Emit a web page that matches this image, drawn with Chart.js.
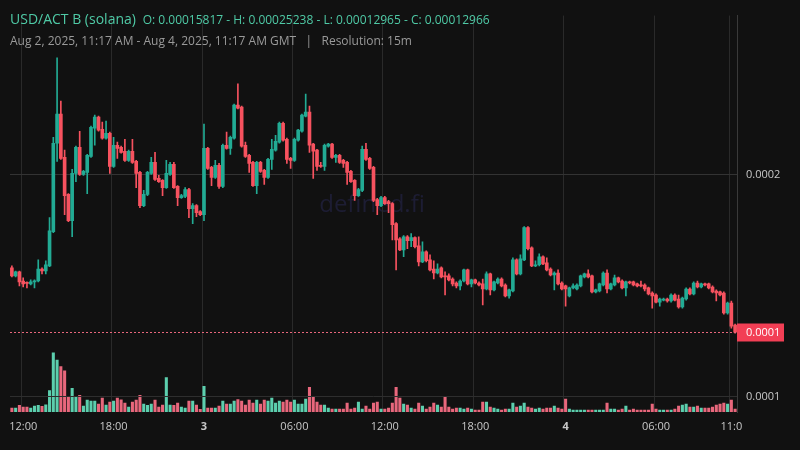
<!DOCTYPE html>
<html><head><meta charset="utf-8">
<script src="https://cdn.jsdelivr.net/npm/chart.js@4.4.1/dist/chart.umd.min.js"></script>
<style>
html,body{margin:0;padding:0;background:#111111;width:800px;height:450px;overflow:hidden;font-family:"Open Sans","Noto Sans",sans-serif}
#wrap{position:absolute;left:0;top:0;width:800px;height:450px}
#t1{position:absolute;left:10px;top:9px;color:#4fcaa6;font-size:14px;white-space:nowrap}
#t1 span{font-size:12px}
#t2{position:absolute;left:10px;top:32px;color:#9a9a9a;font-size:12px;white-space:nowrap}
</style></head>
<body>
<div id="wrap"><canvas id="c" width="800" height="450"></canvas></div>
<div id="t1">USD/ACT B (solana) <span>&nbsp;O: 0.00015817 - H: 0.00025238 - L: 0.00012965 - C: 0.00012966</span></div>
<div id="t2">Aug 2, 2025, 11:17 AM - Aug 4, 2025, 11:17 AM GMT &nbsp;&nbsp;|&nbsp;&nbsp; Resolution: 15m</div>
<script>
// prices in units of 1e-6
const openE6=[158.0,154.4,156.2,152.1,151.2,150.8,151.7,152.1,157.5,156.6,158.9,174.3,214.0,227.1,207.7,191.0,179.2,200.5,212.2,200.0,200.9,208.1,220.8,225.8,220.3,216.3,218.5,203.6,213.1,212.2,210.4,206.3,210.4,205.9,200.9,186.0,191.0,200.5,205.4,198.2,197.3,194.1,200.0,204.5,194.6,189.6,190.1,193.2,184.6,186.0,183.3,181.9,211.7,203.2,198.6,204.1,194.6,213.1,211.7,216.3,231.2,230.3,213.1,208.6,205.4,195.0,205.4,201.8,198.6,206.8,210.9,214.5,223.0,215.8,207.2,206.3,215.4,219.4,226.2,228.0,213.6,210.9,204.1,203.6,212.7,213.6,207.7,208.6,206.3,205.4,201.4,197.3,190.5,192.8,211.3,207.2,203.2,188.7,186.0,189.6,187.8,186.9,177.9,171.1,166.1,172.0,170.2,171.6,167.9,160.7,165.2,161.6,157.5,155.7,158.0,154.4,154.4,153.0,151.2,149.9,152.1,157.1,150.8,152.6,151.2,150.8,148.5,155.3,148.1,151.2,153.0,150.3,145.4,147.6,161.6,155.3,161.6,176.1,167.0,158.9,159.4,163.0,160.3,157.5,154.8,155.7,151.2,149.9,145.4,149.0,148.5,149.9,153.9,155.3,154.4,147.2,147.6,150.3,155.7,148.5,150.3,153.5,152.1,149.0,151.7,151.7,150.8,150.3,150.3,149.0,146.7,145.8,142.6,143.5,144.0,143.1,145.8,144.0,140.4,144.0,148.5,146.3,151.2,149.4,150.8,150.8,149.4,147.6,147.2,146.7,137.7,142.2,132.3];
const highE6=[158.9,156.6,156.6,153.5,151.7,152.6,152.6,161.6,158.0,161.2,180.6,216.7,252.4,233.0,210.9,191.4,202.3,212.7,219.4,201.8,209.0,221.7,226.7,226.2,223.5,224.0,219.0,216.7,214.5,212.7,215.8,210.9,215.8,206.3,201.4,192.8,201.4,207.7,209.9,199.6,197.7,206.3,205.4,205.4,195.0,191.0,194.1,193.7,186.9,186.5,183.7,222.6,212.2,203.6,206.3,205.0,213.6,219.0,217.2,231.6,240.7,230.7,214.5,209.0,205.9,205.9,205.9,202.3,207.2,215.8,217.6,223.5,223.5,216.3,207.7,216.3,220.3,227.1,236.1,230.7,214.0,211.3,205.4,213.6,214.0,214.0,209.0,209.0,206.8,205.9,201.8,197.7,193.7,212.7,214.0,207.7,203.6,189.2,190.1,190.1,188.3,187.4,178.3,171.6,172.5,172.5,173.4,172.0,172.0,169.7,165.7,163.9,161.2,159.8,158.5,156.2,155.3,153.5,151.7,152.6,157.5,157.5,153.0,153.0,151.7,153.0,156.2,155.7,152.1,153.5,153.5,150.8,148.5,162.5,162.1,163.9,176.5,176.5,167.5,161.2,164.3,163.4,162.5,158.0,156.2,157.1,151.7,150.3,149.4,150.8,150.8,154.8,155.7,157.1,154.8,148.5,151.2,156.2,157.1,151.2,154.8,153.9,152.6,152.1,152.1,152.1,151.2,152.1,150.8,149.4,147.2,146.3,144.4,144.4,144.4,146.3,146.3,145.8,144.9,149.0,149.0,151.7,152.1,151.2,151.2,151.2,149.9,148.1,147.6,147.2,142.6,143.1,132.7];
const lowE6=[153.9,153.9,149.9,149.4,149.0,150.3,149.0,151.7,155.3,155.3,158.5,173.8,205.9,206.8,181.9,178.8,172.0,196.8,199.6,199.6,191.4,207.7,213.1,219.4,215.8,215.8,200.5,203.2,207.2,209.5,205.9,205.9,205.0,194.1,185.1,185.5,190.5,200.0,197.3,196.4,190.5,193.7,199.6,193.7,186.0,189.2,189.6,180.6,177.9,181.0,181.5,179.2,202.3,195.0,198.2,193.7,194.1,211.3,209.0,215.8,229.4,212.2,207.7,200.9,194.6,191.4,200.9,195.5,198.2,202.3,210.4,214.0,214.9,205.0,202.7,205.9,214.9,219.0,225.8,209.9,198.2,201.8,203.2,201.8,212.2,207.2,205.4,205.0,203.2,195.5,196.4,188.3,190.1,192.3,206.3,202.3,187.8,181.9,185.5,186.5,182.8,170.6,157.1,165.7,163.0,166.6,167.5,167.0,158.9,160.3,160.7,156.6,153.0,155.3,153.5,145.8,152.1,149.9,149.0,148.1,151.7,150.3,149.4,150.8,149.9,141.3,148.1,145.8,147.6,150.8,149.4,144.9,144.4,147.2,154.8,154.8,161.2,166.1,158.5,158.5,158.9,159.4,156.6,154.4,148.1,150.3,148.1,140.8,144.9,148.5,148.1,149.4,153.5,153.5,146.7,146.7,147.2,149.9,146.7,148.1,149.9,151.2,148.5,145.4,150.8,149.9,149.4,149.4,147.6,145.8,139.9,142.2,140.8,143.1,142.6,142.6,143.1,139.9,139.9,143.5,145.8,145.8,149.0,149.0,149.9,148.5,146.7,143.1,145.4,137.2,137.2,130.9,128.6];
const closeE6=[154.4,156.2,151.7,150.8,151.0,151.7,152.1,157.5,156.6,159.4,174.7,214.0,227.1,207.2,190.5,179.2,200.5,212.2,200.0,201.4,208.6,221.2,225.8,219.9,216.3,218.5,203.6,213.1,211.7,209.9,206.3,210.4,205.4,200.5,186.0,191.0,200.9,205.4,197.7,196.8,194.1,200.5,204.5,194.1,189.6,190.5,193.2,184.6,186.0,182.8,181.9,211.7,202.7,198.6,204.1,194.6,213.1,211.7,216.7,231.2,229.8,212.7,208.1,205.0,195.0,205.4,201.4,198.6,206.8,211.3,214.9,223.0,215.4,206.8,206.3,215.8,219.9,226.7,228.0,213.1,210.4,203.6,203.6,213.1,213.6,207.7,208.6,205.4,205.0,200.9,196.8,190.5,193.2,211.3,206.8,202.7,188.3,186.0,189.6,186.9,186.9,177.4,170.6,166.1,172.0,170.2,171.6,167.5,160.7,165.2,161.2,157.1,155.7,157.5,153.9,153.9,152.6,150.8,149.9,152.1,157.1,150.8,152.6,151.2,150.3,148.5,155.3,148.1,151.7,153.0,149.9,145.4,148.1,161.6,155.3,162.1,176.1,166.6,158.9,159.4,163.0,159.8,157.1,154.8,155.7,150.8,148.5,148.5,149.0,149.9,150.3,154.4,155.3,153.9,147.2,148.1,150.8,155.7,148.5,150.8,153.5,151.7,149.0,151.7,151.2,150.3,149.9,149.9,148.5,146.3,145.4,142.6,144.0,144.0,143.1,145.8,143.5,140.4,144.4,148.5,146.3,151.2,149.4,150.8,150.3,149.0,147.2,146.7,145.8,137.7,142.2,131.8,129.1];
const volumes=[12,12,20,15,15,12,18,20,17,22,65,180,158,138,125,48,72,45,51,18,36,33,33,24,42,21,30,33,42,37,27,15,30,36,51,24,20,24,36,15,21,105,21,20,27,15,12,33,33,21,8,78,12,12,12,18,33,24,24,33,38,33,21,36,27,36,24,36,33,42,27,33,30,36,30,36,24,24,39,75,48,30,21,21,12,9,9,9,9,27,9,12,30,9,18,9,27,30,9,9,12,27,75,42,
24,21,12,9,27,18,9,15,27,21,15,45,15,9,12,12,9,12,9,6,6,30,30,15,12,9,6,9,9,27,15,18,27,15,12,9,12,9,12,12,18,12,9,39,9,6,6,6,6,6,6,6,6,6,27,9,9,6,9,18,6,9,6,6,6,6,24,9,6,6,6,6,9,18,21,24,15,15,18,12,12,12,15,21,24,27,24,36,9];
const tickLabels={3:'12:00',27:'18:00',51:'3',75:'06:00',99:'12:00',123:'18:00',147:'4',171:'06:00',191:'11:0'};
const priceTicks=[0.0002];

const O=openE6.map(v=>v/1e6),H=highE6.map(v=>v/1e6),L=lowE6.map(v=>v/1e6),C=closeE6.map(v=>v/1e6);
const n=O.length;
const labels=Array.from({length:n},(_,i)=>i);
const up=i=>C[i]>=O[i];
const G='#22ab94',R='#f7525f',GV='#5ccfae',RV='#e8677c';
const col=ctx=>up(ctx.dataIndex)?G:R;

const bgPlugin={id:'bg',beforeDraw(ch){const c=ch.ctx;c.save();c.fillStyle='#111111';c.fillRect(0,0,ch.width,ch.height);
 c.font='24px "Open Sans",sans-serif';c.fillStyle='rgba(45,45,95,0.45)';c.textAlign='center';c.textBaseline='middle';c.fillText('defined.fi',372,205);c.restore();}};
const overlay={id:'ov',afterDatasetsDraw(ch){const c=ch.ctx,a=ch.chartArea,y=ch.scales.y,v=ch.scales.v;c.save();
 const vy=Math.round(v.getPixelForValue(48))+0.5;c.strokeStyle='#2e2e2e';c.lineWidth=1;c.beginPath();c.moveTo(a.left,vy);c.lineTo(a.right,vy);c.stroke();
 c.fillStyle='#c8c8c8';c.font='11px "Open Sans",sans-serif';c.textBaseline='middle';c.textAlign='left';c.fillText('0.0001',746,vy);
 const last=C[n-1];const py=Math.round(y.getPixelForValue(last))+0.5;
 c.setLineDash([2,2]);c.strokeStyle='#e8677c';c.beginPath();c.moveTo(a.left,py);c.lineTo(a.right,py);c.stroke();c.setLineDash([]);
 c.fillStyle='#f23f55';c.fillRect(737,py-9,47,18);c.fillStyle='#ffffff';c.font='11px "Open Sans",sans-serif';c.fillText('0.0001',746,py);
 c.restore();}};

new Chart(document.getElementById('c'),{
 type:'bar',
 data:{labels,datasets:[
  {type:'bar',data:volumes,yAxisID:'v',grouped:false,barThickness:2.4,backgroundColor:ctx=>up(ctx.dataIndex)?GV:RV,order:3},
  {type:'bar',data:labels.map(i=>[L[i],H[i]]),yAxisID:'y',grouped:false,barThickness:1,backgroundColor:col,order:2},
  {type:'bar',data:labels.map(i=>[O[i],C[i]===O[i]?C[i]+1e-7:C[i]]),yAxisID:'y',grouped:false,barThickness:3,minBarLength:1,backgroundColor:col,order:1}
 ]},
 options:{responsive:false,animation:false,devicePixelRatio:1,
  layout:{padding:{left:10,top:10,right:0,bottom:0}},
  plugins:{legend:{display:false},tooltip:{enabled:false}},
  scales:{
   x:{offset:true,grid:{color:ctx=>tickLabels[ctx.tick&&ctx.tick.value]!==undefined?'#2a2a2a':'rgba(0,0,0,0)',drawTicks:false},border:{display:false},
      afterFit(s){s.height=38;},
      ticks:{autoSkip:false,maxRotation:0,minRotation:0,padding:8,color:'#c8c8c8',
        font:ctx=>({family:'"Open Sans",sans-serif',size:11,weight:(tickLabels[ctx.tick&&ctx.tick.value]==='3'||tickLabels[ctx.tick&&ctx.tick.value]==='4')?'bold':'normal'}),
        callback:(v)=>tickLabels[v]!==undefined?tickLabels[v]:''}},
   y:{position:'right',min:93.2e-6,max:271.4e-6,afterFit(s){s.width=63;},
      afterBuildTicks(s){s.ticks=priceTicks.map(v=>({value:v}));},
      grid:{color:'#333333',drawTicks:false},border:{display:true,color:'#3a3a3a'},
      ticks:{color:'#c8c8c8',padding:9,font:{family:'"Open Sans",sans-serif',size:11},callback:v=>v.toFixed(4)}},
   v:{display:false,min:0,max:1206}
  }},
 plugins:[bgPlugin,overlay]
});
</script>
</body></html>
